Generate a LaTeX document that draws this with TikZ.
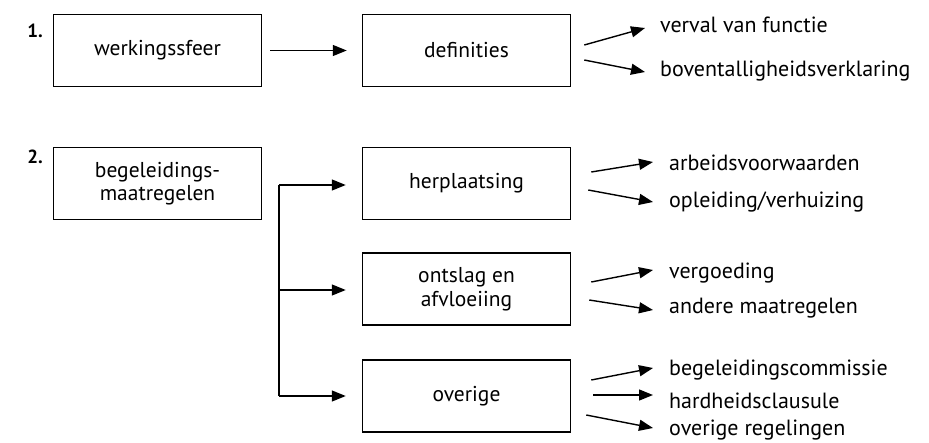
\documentclass[tikz,border=0pt]{standalone}
\usepackage{fontspec}
\setmainfont{PT Sans}
\usetikzlibrary{arrows.meta,calc}
\begin{document}
\begin{tikzpicture}[x=1pt,y=-1pt,
 box/.style={draw,line width=1.5pt,minimum width=208pt,minimum height=72pt,align=center,inner sep=0pt,font=\fontsize{21.5}{23.5}\selectfont},
 lbl/.style={anchor=west,inner sep=0pt,font=\fontsize{22}{24}\selectfont,text height=14pt,text depth=4pt},
 arr/.style={line width=1.4pt,-{Triangle[length=14pt,width=11pt]}},
 num/.style={font=\fontsize{19}{21}\selectfont\bfseries,inner sep=0pt}]
\useasboundingbox (0,0) rectangle (929,442);
% row 1
\node[num] (n1) at (35,31) {1.};
\node[box] (wer) at (157.5,50.5) {werkingssfeer};
\node[box] (def) at (466.5,50.5) {definities};
\draw[arr] (wer.east) ++(8,0) coordinate (w1) -- ([xshift=-15pt]def.west);
\node[lbl] (vvf) at (660,27) {verval van functie};
\node[lbl] (bov) at (660,71) {boventalligheidsverklaring};
\draw[arr] ([shift={(13,-5.5)}]def.east) -- ([shift={(-15,1)}]vvf.west);
\draw[arr] ([shift={(13,9.5)}]def.east) -- ([shift={(-15,1)}]bov.west);
% row 2
\node[num] (n2) at (35,157) {2.};
\node[box] (beg) at (157.5,183.5) {begeleidings-\\maatregelen};
\node[box] (her) at (466.5,183.5) {herplaatsing};
\node[box] (ont) at (466.5,289) {ontslag en\\afvloeiing};
\node[box] (ove) at (466.5,396) {overige};
\coordinate (b1) at (279,185);
\coordinate (b2) at (279,290);
\coordinate (b3) at (279,396);
\draw[line width=1.4pt] (b1) -- (b3);
\draw[arr] (b1) -- ([xshift=-16pt]b1 -| her.west);
\draw[arr] (b2) -- ([xshift=-16pt]b2 -| ont.west);
\draw[arr] (b3) -- ([xshift=-16pt]b3 -| ove.west);
% labels
\node[lbl] (arb) at (669,165) {arbeidsvoorwaarden};
\node[lbl] (opl) at (669,202) {opleiding/verhuizing};
\node[lbl] (ver) at (669,273) {vergoeding};
\node[lbl] (and) at (669,308) {andere maatregelen};
\node[lbl] (bgc) at (669,370) {begeleidingscommissie};
\node[lbl] (har) at (669,403) {hardheidsclausule};
\node[lbl] (ovr) at (669,430) {overige regelingen};
\draw[arr] ([shift={(20,-11.5)}]her.east) -- ([shift={(-16,-3)}]arb.west);
\draw[arr] ([shift={(17,6.5)}]her.east) -- ([shift={(-16,0)}]opl.west);
\draw[arr] ([shift={(20,-7)}]ont.east) -- ([shift={(-16,-3)}]ver.west);
\draw[arr] ([shift={(18,11)}]ont.east) -- ([shift={(-16,2)}]and.west);
\draw[arr] ([shift={(20,-16)}]ove.east) -- ([shift={(-16,-2)}]bgc.west);
\draw[arr] ([shift={(22,-1)}]ove.east) -- ([shift={(-16,-8)}]har.west);
\draw[arr] ([shift={(15,19)}]ove.east) -- ([shift={(-16,-2)}]ovr.west);
\end{tikzpicture}
\end{document}
